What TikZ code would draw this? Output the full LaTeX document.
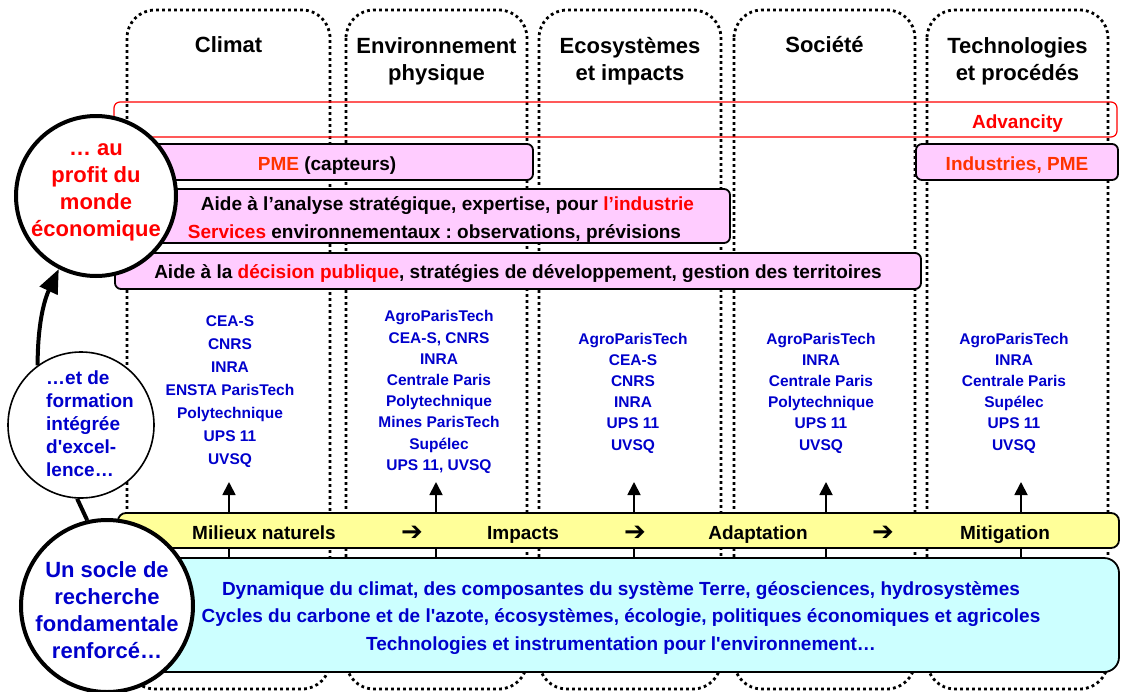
\documentclass[tikz,border=0pt]{standalone}
\usepackage{fontspec}
\setmainfont{Liberation Sans}[Ligatures=TeXOff]
\newfontfamily\arrowfont{DejaVu Sans}
\usetikzlibrary{arrows.meta,positioning}

\definecolor{boxpink}{RGB}{255,204,255}
\definecolor{boxyellow}{RGB}{255,255,153}
\definecolor{boxcyan}{RGB}{204,255,255}
\definecolor{textblue}{RGB}{0,0,204}
\definecolor{pmered}{RGB}{255,51,0}

% taller first line, so that box texts sit a little lower
\newcommand{\boxstrut}{\rule{0pt}{20pt}}

\tikzset{
  themecolumn/.style={line width=2.8pt, dash pattern=on 2.8pt off 3.2pt, rounded corners=28pt},
  themetitle/.style={font=\fontsize{22}{27}\selectfont\bfseries, align=center},
  redframe/.style={draw=red, line width=1.2pt, rounded corners=6pt, minimum height=35pt},
  pinkbox/.style={draw, line width=1.8pt, fill=boxpink, rounded corners=6pt, inner sep=0pt,
    minimum height=36pt, font=\fontsize{19}{28}\selectfont\bfseries, align=center},
  partners/.style={font=\fontsize{15.5}{21.2}\selectfont\bfseries, text=textblue, align=center},
  stagetext/.style={font=\fontsize{19}{23}\selectfont\bfseries, anchor=base},
  uparrow/.style={line width=1.8pt, -{Triangle[length=13pt,width=13pt]}},
  ring/.style={circle, draw, line width=4pt, fill=white, inner sep=0pt},
  ringtext/.style={font=\fontsize{22}{27}\selectfont\bfseries, align=center, inner sep=0pt},
  thickarrow/.style={line width=4pt, -{Triangle[length=24pt,width=19pt]}}
}

\begin{document}
\frenchspacing
\begin{tikzpicture}[x=1pt,y=-1pt]
\useasboundingbox (0,0) rectangle (1122,691);

% thematic columns
\foreach \xl/\xr in {127/330, 346/527, 539/721, 734/915, 927/1108}
  \draw[themecolumn] (\xl,10) rectangle (\xr,689);

\node[themetitle] (climat) at (228.5,45) {Climat};
\node[themetitle] (envphys) at (436.5,61) {Environnement\\physique};
\node[themetitle] (ecosys) at (630,61) {Ecosystèmes\\et impacts};
\node[themetitle] (societe) at (824.5,45) {Société};
\node[themetitle] (techno) at (1017.5,61) {Technologies\\et procédés};

% economic partners
\node[redframe, minimum width=1003pt] (advancity) at (615.5,119.5) {};
\node[stagetext, text=red] (advlabel) at (1017.5,128) {Advancity};
\node[pinkbox, minimum width=412pt] (pme) at (327,162) {\boxstrut\textcolor{pmered}{PME} (capteurs)};
\node[pinkbox, minimum width=202pt, text=pmered] (industries) at (1017,162) {\boxstrut Industries, PME};
\node[pinkbox, minimum width=578pt, minimum height=54pt] (analyse) at (441,216)
  {\boxstrut\hspace*{13pt}Aide à l’analyse stratégique, expertise, pour \textcolor{red}{l’industrie}\\
   \textcolor{red}{Services} environnementaux : observations, prévisions\hspace*{13pt}};
\node[pinkbox, minimum width=806pt] (decision) at (518,271)
  {\boxstrut Aide à la \textcolor{red}{décision publique}, stratégies de développement, gestion des territoires};

% partner institutions
\node[partners, font=\fontsize{15.5}{23}\selectfont\bfseries] (lclimat) at (230,392)
  {CEA-S\\CNRS\\INRA\\ENSTA ParisTech\\Polytechnique\\UPS 11\\UVSQ};
\node[partners] (lenvphys) at (439,392)
  {AgroParisTech\\CEA-S, CNRS\\INRA\\Centrale Paris\\Polytechnique\\Mines ParisTech\\Supélec\\UPS 11, UVSQ};
\node[partners] (lecosys) at (633,393)
  {AgroParisTech\\CEA-S\\CNRS\\INRA\\UPS 11\\UVSQ};
\node[partners] (lsociete) at (821,393)
  {AgroParisTech\\INRA\\Centrale Paris\\Polytechnique\\UPS 11\\UVSQ};
\node[partners] (ltechno) at (1014,393)
  {AgroParisTech\\INRA\\Centrale Paris\\Supélec\\UPS 11\\UVSQ};

% research basis
\node[draw, line width=1.8pt, fill=boxcyan, rounded corners=15pt, minimum width=996pt,
  minimum height=114pt, font=\fontsize{19}{27.5}\selectfont\bfseries, text=textblue,
  align=center] (basis) at (621,615)
  {\boxstrut Dynamique du climat, des composantes du système Terre, géosciences, hydrosystèmes\\
   Cycles du carbone et de l'azote, écosystèmes, écologie, politiques économiques et agricoles\\
   Technologies et instrumentation pour l'environnement…};

\foreach \x [count=\i] in {229,436,634,826,1021}
  \coordinate (tip\i) at (\x,482);
\foreach \i in {1,...,5}
  \draw[uparrow] (basis.north -| tip\i) -- (tip\i);

% axis bar
\node[draw, line width=1.8pt, fill=boxyellow, rounded corners=8pt, minimum width=1001pt,
  minimum height=35pt] (axis) at (618.5,530.5) {};
\foreach \x/\txt [count=\i] in {264/Milieux naturels, 523/Impacts, 758/Adaptation, 1005/Mitigation}
  \node[stagetext] (stage\i) at (\x,539) {\txt};
\foreach \x [count=\i] in {412,635,883}
  \node[stagetext, font=\arrowfont\fontsize{26}{28}\selectfont] (then\i) at (\x,540) {➔};

% circles
\node[ring, minimum size=160pt] (profit) at (96,196) {};
\node[ringtext, text=red] (profittext) at (96,192) {… au\\profit du\\monde\\économique};
\node[ring, line width=1.6pt, minimum size=146pt] (formation) at (81,425) {};
\node[ringtext, font=\fontsize{19}{23}\selectfont\bfseries, align=left, text=textblue,
  anchor=west] (formationtext) at (46,424) {…et de\\formation\\intégrée\\d'excel-\\lence…};
\node[ring, minimum size=172pt] (socle) at (107,606) {};
\node[ringtext, text=textblue] (socletext) at (107,610) {Un socle de\\recherche\\fondamentale\\renforcé…};

\draw[line width=4pt] (socle.103) -- (formation.267);
\draw[thickarrow] (formation.126) .. controls +(0,-40) and +(-15,32) .. (profit.243);

\end{tikzpicture}
\end{document}
